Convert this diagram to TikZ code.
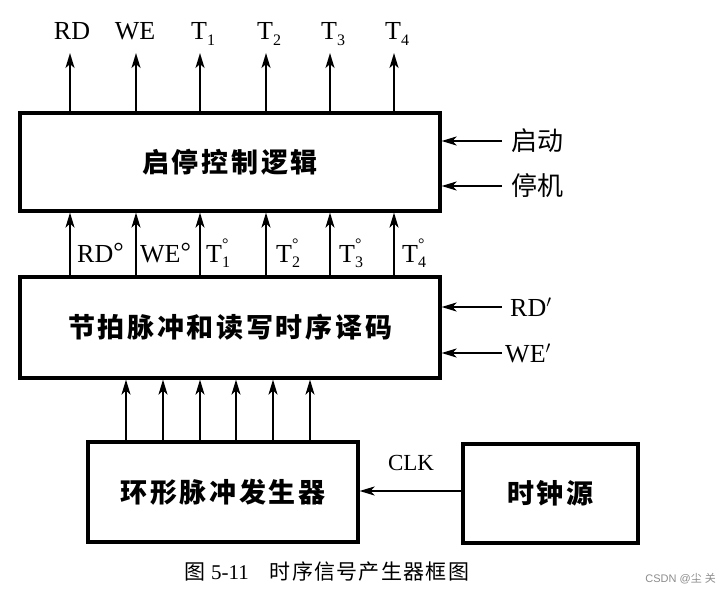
\documentclass[tikz,border=0pt]{standalone}
\usepackage{fontspec}
\setmainfont{Liberation Serif}
\newfontfamily\cjk{Noto Sans CJK SC}
\newfontfamily\cjkw[LetterSpace=10]{Noto Sans CJK SC}
\newfontfamily\wmfont{Liberation Sans}
\usetikzlibrary{arrows.meta}
\newcommand\lsub[1]{\raisebox{-0.45ex}{\fontsize{16}{16}\selectfont #1}}
\newcommand\lsubdeg[1]{\hbox{\rlap{\raisebox{1.05ex}{\fontsize{16}{16}\selectfont °}}\raisebox{-0.45ex}{\fontsize{16}{16}\selectfont #1}}}
\begin{document}
\begin{tikzpicture}[x=1pt,y=-1pt,
  blk/.style={draw,line width=3.2pt,inner sep=0pt},
  arr/.style={line width=2pt,-{Stealth[length=15pt,width=9pt,inset=4pt]}},
  lab/.style={inner sep=0pt,font=\fontsize{26}{26}\selectfont},
  cjkl/.style={inner sep=0pt,font=\cjk\fontsize{26}{26}\selectfont},
  boxtxt/.style={font=\cjkw\bfseries\fontsize{27}{27}\selectfont}]
\useasboundingbox (0,0) rectangle (728,594);
% boxes
\node[blk,boxtxt,minimum width=420pt,minimum height=98pt] (top) at (230,162) {启停控制逻辑};
\node[blk,boxtxt,minimum width=420pt,minimum height=101pt] (mid) at (230,327.5) {节拍脉冲和读写时序译码};
\node[blk,boxtxt,minimum width=270pt,minimum height=100pt] (ring) at (223,492) {环形脉冲发生器};
\node[blk,boxtxt,minimum width=175pt,minimum height=99pt] (clk) at (550.5,493.5) {时钟源};
% column coordinates
\foreach \i/\x in {1/70,2/136,3/200,4/266,5/330,6/394}{
  \coordinate (c\i) at (\x,53);
}
% top outputs
\foreach \i in {1,...,6}{ \draw[arr] (top.north -| c\i) -- (c\i); }
\node[lab] (oRD) at (72,31) {RD};
\node[lab] (oWE) at (135,31) {WE};
\node[lab,anchor=base west] (oT1) at (191,40) {T\lsub{1}};
\node[lab,anchor=base west] (oT2) at (257,40) {T\lsub{2}};
\node[lab,anchor=base west] (oT3) at (321,40) {T\lsub{3}};
\node[lab,anchor=base west] (oT4) at (385,40) {T\lsub{4}};
% middle
\foreach \i in {1,...,6}{ \draw[arr] (mid.north -| c\i) -- (top.south -| c\i); }
\node[lab,anchor=base west] (mRD) at (77,262) {RD\raisebox{0.15ex}{°}};
\node[lab,anchor=base west] (mWE) at (140,262) {WE\raisebox{0.15ex}{°}};
\node[lab,anchor=base west] (mT1) at (206,262) {T\lsubdeg{1}};
\node[lab,anchor=base west] (mT2) at (276,262) {T\lsubdeg{2}};
\node[lab,anchor=base west] (mT3) at (339,262) {T\lsubdeg{3}};
\node[lab,anchor=base west] (mT4) at (402,262) {T\lsubdeg{4}};
% bottom arrows
\foreach \i/\x in {1/126,2/163,3/200,4/236,5/273,6/310}{
  \coordinate (b\i) at (\x,0);
  \draw[arr] (ring.north -| b\i) -- (mid.south -| b\i);
}
% right inputs
\node[cjkl,anchor=west] (qd) at (511,141) {启动};
\node[cjkl,anchor=west] (tj) at (511,186) {停机};
\draw[arr] (qd.west) ++(-9,0) coordinate (qds) -- (top.east |- qds);
\draw[arr] (tj.west) ++(-9,0) coordinate (tjs) -- (top.east |- tjs);
\node[lab,anchor=west] (rdp) at (510,307) {RD$'$};
\node[lab,anchor=west] (wep) at (505,353) {WE$'$};
\coordinate (rds) at (502,307);
\coordinate (wes) at (502,353);
\draw[arr] (rds) -- (mid.east |- rds);
\draw[arr] (wes) -- (mid.east |- wes);
% clock
\coordinate (clkl) at (clk.west |- 0,491);
\draw[arr] (clkl) -- (ring.east |- clkl);
\node[lab,font=\fontsize{23}{23}\selectfont] (clklab) at (411,463) {CLK};
% caption
\node[inner sep=0pt,font=\fontsize{21}{21}\selectfont] (cap) at (327,572)
  {{\cjk 图} 5-11\hspace{1em}{\cjk\addfontfeature{LetterSpace=6}时序信号产生器框图}};
\node[inner sep=0pt,text=black!45,anchor=east] (wm) at (716,579)
  {\wmfont\fontsize{11}{11}\selectfont CSDN @{\cjk 尘} {\cjk 关}};
\end{tikzpicture}
\end{document}
